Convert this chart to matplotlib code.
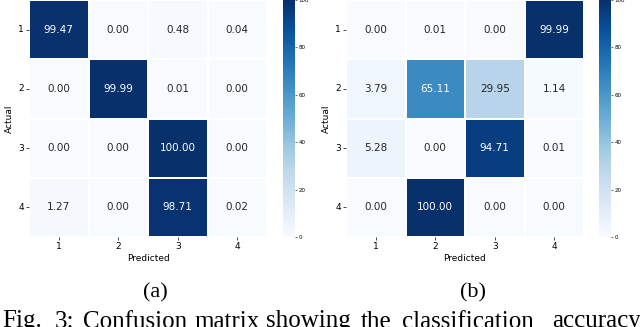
import matplotlib
matplotlib.use("Agg")
import matplotlib.pyplot as plt
import seaborn as sns
import numpy as np

classes = ["1", "2", "3", "4"]
cm_a = [[99.47, 0.00, 0.48, 0.04],
        [0.00, 99.99, 0.01, 0.00],
        [0.00, 0.00, 100.00, 0.00],
        [1.27, 0.00, 98.71, 0.02]]
cm_b = [[0.00, 0.01, 0.00, 99.99],
        [3.79, 65.11, 29.95, 1.14],
        [5.28, 0.00, 94.71, 0.01],
        [0.00, 100.00, 0.00, 0.00]]
sub_labels = ["(a)", "(b)"]
caption_words = ["Fig.", "3:", "Confusion", "matrix", "showing", "the",
                 "classification", "accuracy"]
caption_x = [2, 55, 83, 194, 266, 361, 402, 552]

W, H = 640, 327
fig = plt.figure(figsize=(W / 100, H / 100), dpi=100)

def fx(px):
    return px / W

def fy(py):
    return (H - py) / H

panels = [
    (cm_a, 29, 283, 155),
    (cm_b, 346, 599, 473),
]
for (cm, x0, cx0, labx), lab in zip(panels, sub_labels):
    ax = fig.add_axes([fx(x0), fy(237), 238 / W, 237 / H])
    cax = fig.add_axes([fx(cx0), fy(237), 12 / W, 237 / H])
    sns.heatmap(np.array(cm), ax=ax, cbar_ax=cax, cmap="Blues", vmin=0, vmax=100,
                annot=True, fmt=".2f", annot_kws={"fontsize": 7.5},
                linewidths=0.3, linecolor="white",
                xticklabels=classes, yticklabels=classes)
    ax.set_xlabel("Predicted", fontsize=6.5, labelpad=2)
    ax.set_ylabel("Actual", fontsize=6.5, labelpad=3)
    ax.tick_params(axis="both", labelsize=6.5, length=2, width=0.5, pad=1.5)
    ax.tick_params(axis="y", rotation=0)
    cax.tick_params(labelsize=4, length=1.5, width=0.4, pad=1)
    fig.text(fx(labx), fy(292.5), lab, ha="center", va="center",
             fontsize=16, family="Liberation Serif")

for w, x in zip(caption_words, caption_x):
    fig.text(fx(x), fy(327.5), w, ha="left", va="baseline",
             fontsize=18, family="Liberation Serif")

fig.savefig("out.png", dpi=100)
